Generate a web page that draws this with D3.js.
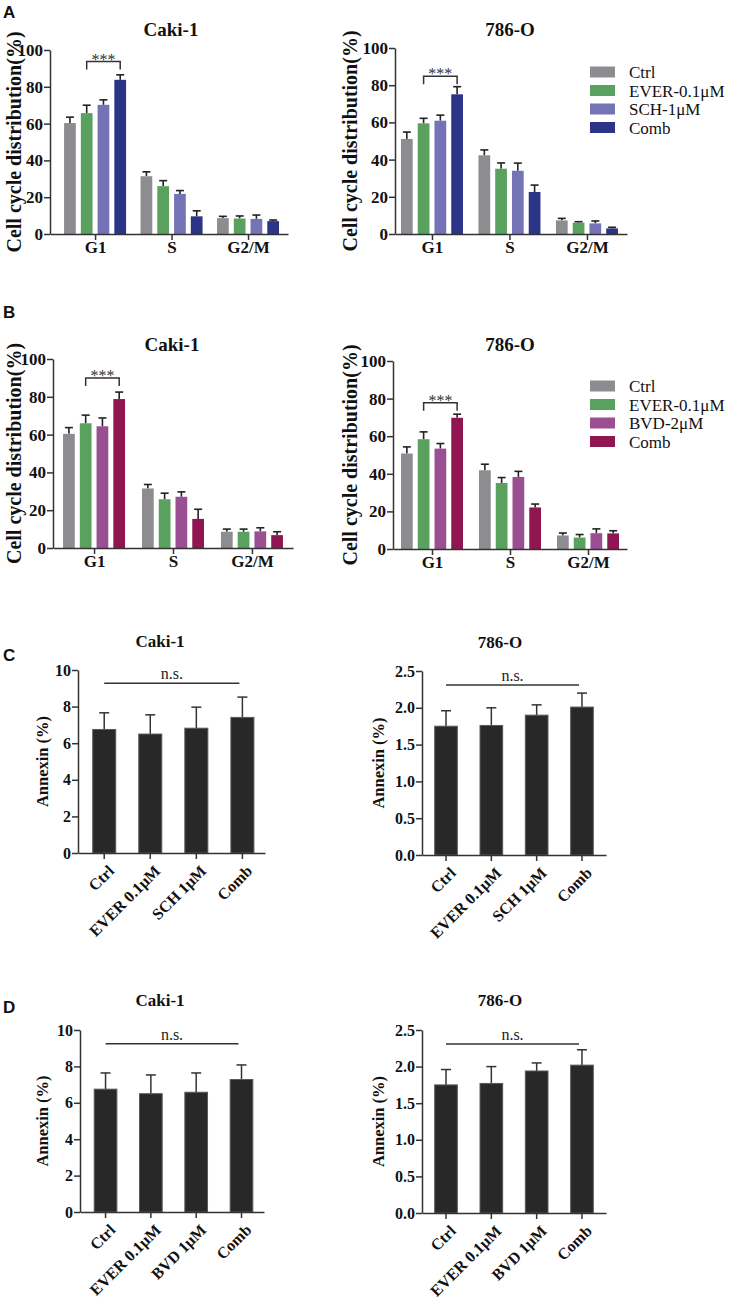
<!DOCTYPE html>
<html><head><meta charset="utf-8">
<script src="https://cdn.jsdelivr.net/npm/d3@7"></script>
<style>body{margin:0;background:#fff} svg{display:block}</style>
</head><body>
<svg id="c" width="730" height="1300"></svg>
<script>
// ---------- DATA ----------
const phases = ["G1", "S", "G2/M"];
const seriesA = ["Ctrl", "EVER-0.1μM", "SCH-1μM", "Comb"];
const seriesB = ["Ctrl", "EVER-0.1μM", "BVD-2μM", "Comb"];
const colorsA = ["#8d8d91", "#5aa05f", "#7473b6", "#2b3486"];
const colorsB = ["#8d8d91", "#5aa05f", "#9a4f93", "#8f1650"];
const cycleTicks = [0, 20, 40, 60, 80, 100];

// rows = phases, columns = series
const aCakiMean = [[60.3, 65.7, 70.2, 83.8], [31.4, 26.0, 21.8, 9.6], [8.6, 8.4, 8.2, 7.0]];
const aCakiErr  = [[3.2, 4.3, 2.7, 2.7], [2.4, 3.0, 1.8, 3.0], [1.0, 1.4, 2.1, 0.6]];
const a786Mean  = [[51.1, 59.5, 60.9, 75.1], [42.3, 35.1, 34.0, 22.6], [7.3, 6.1, 5.7, 3.0]];
const a786Err   = [[3.7, 2.7, 3.0, 4.1], [2.9, 3.1, 4.1, 3.7], [1.1, 0.5, 1.3, 0.6]];
const bCakiMean = [[60.4, 66.0, 64.4, 78.8], [31.5, 25.8, 27.1, 15.4], [8.6, 8.6, 8.8, 6.8]];
const bCakiErr  = [[3.3, 4.3, 4.4, 3.7], [2.1, 3.2, 2.6, 5.1], [1.4, 1.4, 1.9, 1.8]];
const b786Mean  = [[50.8, 58.4, 53.4, 69.8], [41.9, 35.1, 38.3, 22.1], [7.2, 6.1, 8.4, 8.3]];
const b786Err   = [[3.5, 3.9, 2.7, 1.9], [3.2, 2.9, 3.0, 1.8], [1.3, 1.6, 2.3, 1.4]];
// significance bracket levels (value units)
const sigLevels = {aCaki: 93.7, a786: 84.8, bCaki: 89.9, b786: 77.8};

const treatC = ["Ctrl", "EVER 0.1μM", "SCH 1μM", "Comb"];
const treatD = ["Ctrl", "EVER 0.1μM", "BVD 1μM", "Comb"];
const annexTicks10 = [0, 2, 4, 6, 8, 10];
const annexTicks25 = [0, 0.5, 1.0, 1.5, 2.0, 2.5];
const cCakiMean = [6.75, 6.50, 6.82, 7.41];
const cCakiErr  = [0.91, 1.05, 1.15, 1.11];
const c786Mean  = [1.75, 1.76, 1.90, 2.01];
const c786Err   = [0.21, 0.24, 0.14, 0.19];
const dCakiMean = [6.75, 6.50, 6.58, 7.28];
const dCakiErr  = [0.89, 1.03, 1.06, 0.80];
const d786Mean  = [1.75, 1.77, 1.94, 2.02];
const d786Err   = [0.21, 0.23, 0.11, 0.21];
const nsLevels = {cCaki: 9.27, c786: 2.31, dCaki: 9.25, d786: 2.31};

// ---------- DRAW ----------
const svg = d3.select("#c");
const SERIF = "'Liberation Serif','Times New Roman',serif";
const SANS = "'Liberation Sans',Arial,sans-serif";
const AX = "#333";

function styleAxis(g, fs) {
  g.selectAll("path.domain").attr("stroke", AX).attr("stroke-width", 1.5);
  g.selectAll(".tick line").attr("stroke", AX).attr("stroke-width", 1.5);
  g.selectAll(".tick text").attr("fill", "#111").style("font-family", SERIF)
    .style("font-weight", "bold").style("font-size", fs + "px");
}

function cyclePanel(c) {
  const g = svg.append("g");
  const x = d3.scalePoint().domain(phases).range([c.x0, c.x1]).padding(c.pad).align(c.align);
  const sub = d3.scaleBand().domain(c.series).range([-31, 31]).paddingInner(0.3);
  const y = d3.scaleLinear().domain([0, 100]).range([c.yBot, c.yTop]);

  // bars
  phases.forEach((ph, i) => {
    c.series.forEach((s, j) => {
      const bx = x(ph) + sub(s), bw = sub.bandwidth();
      const v = c.mean[i][j], e = c.err[i][j];
      const cx = bx + bw / 2;
      g.append("line").attr("x1", cx).attr("x2", cx).attr("y1", y(v)).attr("y2", y(v + e))
        .attr("stroke", "#222").attr("stroke-width", 1.6);
      g.append("line").attr("x1", cx - 4).attr("x2", cx + 4).attr("y1", y(v + e)).attr("y2", y(v + e))
        .attr("stroke", "#222").attr("stroke-width", 1.6);
      g.append("rect").attr("x", bx).attr("y", y(v)).attr("width", bw).attr("height", c.yBot - y(v))
        .attr("fill", c.colors[j]);
    });
  });

  // significance bracket between series 1 and 3 on G1
  const xa = x("G1") + sub(c.series[1]) + sub.bandwidth() / 2;
  const xb = x("G1") + sub(c.series[3]) + sub.bandwidth() / 2;
  const ys = y(c.sig);
  g.append("path").attr("d", `M${xa},${ys + 8}V${ys}H${xb}V${ys + 8}`)
    .attr("fill", "none").attr("stroke", "#333").attr("stroke-width", 1.5);
  g.append("text").attr("x", (xa + xb) / 2).attr("y", ys + 3).attr("text-anchor", "middle")
    .style("font-family", SERIF).style("font-size", "16px").attr("fill", "#333").text("***");

  // axes
  const gx = g.append("g").attr("transform", `translate(0,${c.yBot})`)
    .call(d3.axisBottom(x).tickSize(6).tickSizeOuter(0).tickPadding(1));
  styleAxis(gx, 17);
  const gy = g.append("g").attr("transform", `translate(${c.x0},0)`)
    .call(d3.axisLeft(y).tickValues(cycleTicks).tickSize(6).tickSizeOuter(0).tickPadding(1));
  styleAxis(gy, 17);

  // title
  g.append("text").attr("x", c.titleX).attr("y", c.titleY).attr("text-anchor", "middle")
    .style("font-family", SERIF).style("font-weight", "bold").style("font-size", "19px")
    .attr("fill", "#111").text(c.title);
  // y label
  g.append("text").attr("transform", `translate(${c.labelX},${(c.yTop + c.yBot) / 2}) rotate(-90)`)
    .attr("text-anchor", "middle").style("font-family", SERIF).style("font-weight", "bold")
    .style("font-size", "20px").attr("fill", "#111").text("Cell cycle distribution(%)");

  // legend
  if (c.legendY !== undefined) {
    c.series.forEach((s, j) => {
      const cy = c.legendY + j * 18.5;
      g.append("rect").attr("x", 590).attr("y", cy - 5.5).attr("width", 25).attr("height", 11)
        .attr("fill", c.colors[j]);
      g.append("text").attr("x", 629).attr("y", cy + 6).style("font-family", SERIF)
        .style("font-size", "17px").attr("fill", "#111").text(s);
    });
  }
}

function annexPanel(c) {
  const g = svg.append("g");
  const x = d3.scaleBand().domain(c.treat).range([c.x0, c.x1])
    .paddingInner(0.5).paddingOuter(0.28).align(c.align);
  const y = d3.scaleLinear().domain([0, c.max]).range([c.yBot, c.yTop]);

  c.treat.forEach((t, i) => {
    const v = c.mean[i], e = c.err[i];
    const cx = x(t) + x.bandwidth() / 2;
    g.append("line").attr("x1", cx).attr("x2", cx).attr("y1", y(v)).attr("y2", y(v + e))
      .attr("stroke", "#333").attr("stroke-width", 1.5);
    g.append("line").attr("x1", cx - 5).attr("x2", cx + 5).attr("y1", y(v + e)).attr("y2", y(v + e))
      .attr("stroke", "#333").attr("stroke-width", 1.5);
    g.append("rect").attr("x", x(t)).attr("y", y(v)).attr("width", x.bandwidth())
      .attr("height", c.yBot - y(v)).attr("fill", "#282828").attr("stroke", "#5a5a5a").attr("stroke-width", 1);
  });

  // n.s. line
  const x1 = x(c.treat[0]) + x.bandwidth() / 2;
  const x2 = x(c.treat[3]) + x.bandwidth() / 2 - 3;
  const yn = y(c.ns);
  g.append("line").attr("x1", x1).attr("x2", x2).attr("y1", yn).attr("y2", yn)
    .attr("stroke", "#333").attr("stroke-width", 1.5);
  g.append("text").attr("x", (x1 + x2) / 2).attr("y", yn - 4).attr("text-anchor", "middle")
    .style("font-family", SERIF).style("font-size", "16px").attr("fill", "#222").text("n.s.");

  const gx = g.append("g").attr("transform", `translate(0,${c.yBot})`)
    .call(d3.axisBottom(x).tickSize(6).tickSizeOuter(0));
  styleAxis(gx, 16);
  gx.selectAll(".tick text").attr("text-anchor", "end").attr("x", 0).attr("y", 0).attr("dy", "0.35em")
    .attr("transform", "translate(7,15) rotate(-45)");
  const gy = g.append("g").attr("transform", `translate(${c.x0},0)`)
    .call(d3.axisLeft(y).tickValues(c.ticks).tickSize(6).tickSizeOuter(0).tickPadding(1)
      .tickFormat(c.max > 5 ? d3.format("d") : d3.format(".1f")));
  styleAxis(gy, 16);

  g.append("text").attr("x", c.titleX).attr("y", c.titleY).attr("text-anchor", "middle")
    .style("font-family", SERIF).style("font-weight", "bold").style("font-size", "17px")
    .attr("fill", "#111").text(c.title);
  g.append("text").attr("transform", `translate(${c.labelX},${(c.yTop + c.yBot) / 2}) rotate(-90)`)
    .attr("text-anchor", "middle").style("font-family", SERIF).style("font-weight", "bold")
    .style("font-size", "16.5px").attr("fill", "#111").text("Annexin (%)");
}

// Panel A
cyclePanel({x0: 50, x1: 288, pad: 0.556, align: 0.53, yTop: 50, yBot: 234, series: seriesA, colors: colorsA,
  mean: aCakiMean, err: aCakiErr, sig: sigLevels.aCaki, title: "Caki-1", titleX: 171, titleY: 36, labelX: 21});
cyclePanel({x0: 395, x1: 627, pad: 0.497, align: 0.48, yTop: 48, yBot: 234, series: seriesA, colors: colorsA,
  mean: a786Mean, err: a786Err, sig: sigLevels.a786, title: "786-O", titleX: 510, titleY: 36, labelX: 357, legendY: 72});
// Panel B
cyclePanel({x0: 53, x1: 293, pad: 0.52, align: 0.5, yTop: 359, yBot: 548, series: seriesB, colors: colorsB,
  mean: bCakiMean, err: bCakiErr, sig: sigLevels.bCaki, title: "Caki-1", titleX: 172, titleY: 351, labelX: 21});
cyclePanel({x0: 393, x1: 627, pad: 0.5, align: 0.5, yTop: 361, yBot: 549, series: seriesB, colors: colorsB,
  mean: b786Mean, err: b786Err, sig: sigLevels.b786, title: "786-O", titleX: 510, titleY: 351, labelX: 357, legendY: 386});
// Panel C
annexPanel({x0: 78, x1: 265, align: 0.57, yTop: 670, yBot: 853, max: 10, ticks: annexTicks10, treat: treatC,
  mean: cCakiMean, err: cCakiErr, ns: nsLevels.cCaki, title: "Caki-1", titleX: 160, titleY: 647, labelX: 48});
annexPanel({x0: 422, x1: 606, align: 0.5, yTop: 671, yBot: 855, max: 2.5, ticks: annexTicks25, treat: treatC,
  mean: c786Mean, err: c786Err, ns: nsLevels.c786, title: "786-O", titleX: 500, titleY: 648, labelX: 384});
// Panel D
annexPanel({x0: 80, x1: 264, align: 0.56, yTop: 1030, yBot: 1212, max: 10, ticks: annexTicks10, treat: treatD,
  mean: dCakiMean, err: dCakiErr, ns: nsLevels.dCaki, title: "Caki-1", titleX: 160, titleY: 1006, labelX: 48});
annexPanel({x0: 422, x1: 606, align: 0.5, yTop: 1030, yBot: 1213, max: 2.5, ticks: annexTicks25, treat: treatD,
  mean: d786Mean, err: d786Err, ns: nsLevels.d786, title: "786-O", titleX: 500, titleY: 1006, labelX: 384});

// panel letters
[["A", 18], ["B", 318], ["C", 661], ["D", 1013]].forEach(([t, yy]) => {
  svg.append("text").attr("x", 3).attr("y", yy).style("font-family", SANS).style("font-weight", "bold")
    .style("font-size", "17px").attr("fill", "#111").text(t);
});
</script>
</body></html>
